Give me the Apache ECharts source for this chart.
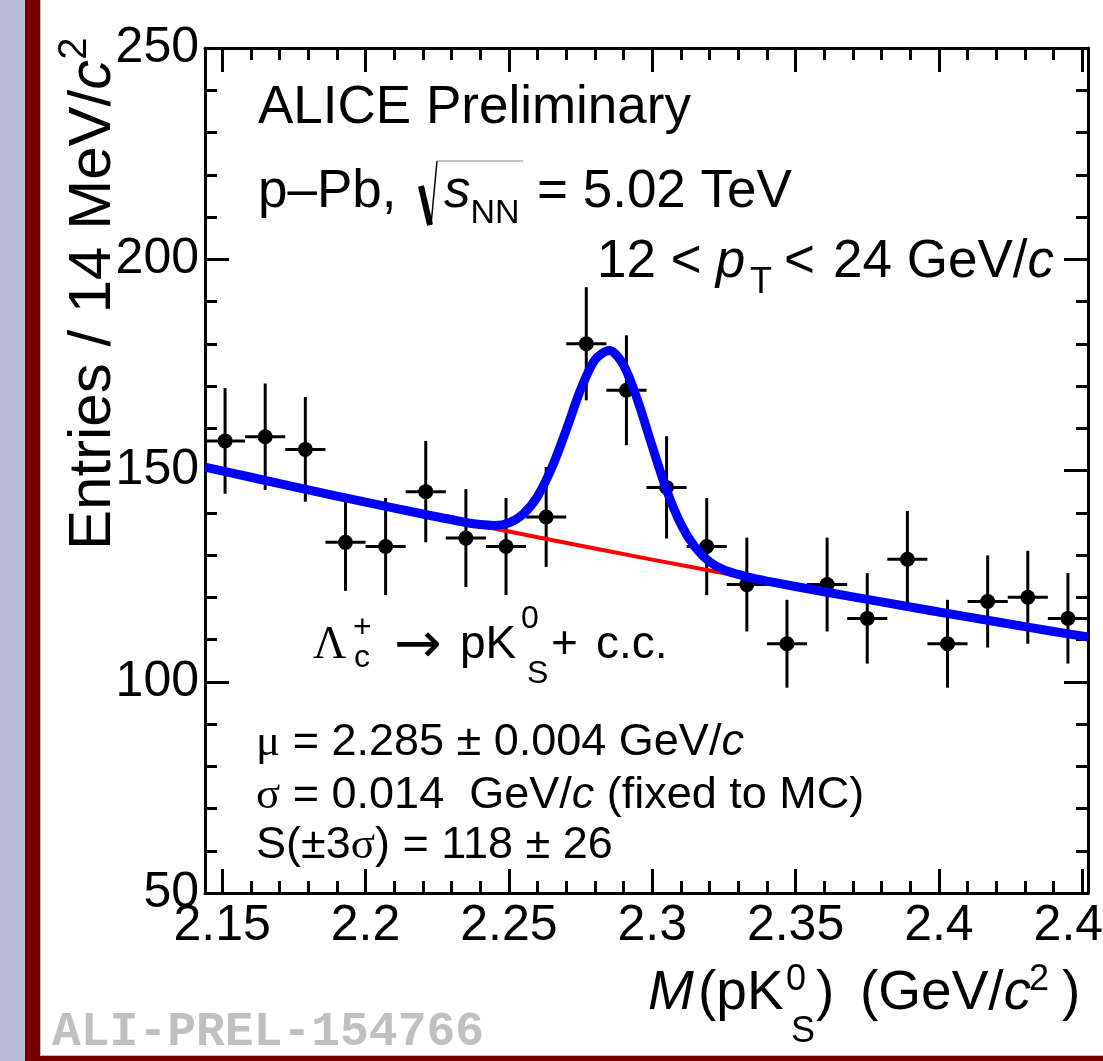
<!DOCTYPE html>
<html>
<head>
<meta charset="utf-8">
<title>Lambda_c invariant mass</title>
<script src="https://cdn.jsdelivr.net/npm/echarts@6/dist/echarts.min.js"></script>
<style>
  html, body { margin: 0; padding: 0; background: #fff; }
  #chart { width: 1103px; height: 1061px; }
</style>
</head>
<body>
<div id="chart"></div>
<script>
// histogram (bin centres, 14 MeV bins)
const massBins = [2.151, 2.165, 2.179, 2.193, 2.207, 2.221, 2.235, 2.249, 2.263, 2.277, 2.291,
                  2.305, 2.319, 2.333, 2.347, 2.361, 2.375, 2.389, 2.403, 2.417, 2.431, 2.445];
const entries = [157, 158, 155, 133, 132, 145, 134, 132, 139, 180, 169,
                 146, 132, 123, 109, 123, 115, 129, 109, 119, 120, 115];
const entryErrors = [12.5, 12.6, 12.4, 11.5, 11.5, 12.0, 11.6, 11.5, 11.8, 13.4, 13.0,
                     12.1, 11.5, 11.1, 10.4, 11.1, 10.7, 11.4, 10.4, 10.9, 11.0, 10.7];
const binHalfWidth = 0.007;

// total fit (blue)
const fitMass = [2.144, 2.16, 2.18, 2.2, 2.22, 2.235, 2.24, 2.245, 2.25, 2.255, 2.26, 2.265, 2.27,
                 2.275, 2.28, 2.285, 2.29, 2.295, 2.3, 2.305, 2.31, 2.315, 2.32, 2.325, 2.33,
                 2.335, 2.34, 2.36, 2.38, 2.4, 2.42, 2.44, 2.452];
const fitTotal = [150.8, 148.4, 145.4, 142.5, 139.7, 137.7, 137.2, 137.0, 137.6, 139.7, 143.9, 150.7, 159.6,
                  169.1, 176.2, 178.4, 174.9, 166.4, 155.7, 145.4, 137.3, 131.8, 128.4, 126.5, 125.4,
                  124.5, 123.8, 121.3, 118.9, 116.5, 114.2, 111.9, 110.6];
// background (red)
const bkgMass = [2.144, 2.18, 2.22, 2.26, 2.3, 2.34, 2.38, 2.42, 2.452];
const bkgEntries = [150.8, 145.4, 139.7, 134.2, 128.9, 123.8, 118.9, 114.2, 110.6];

// axes
const massMin = 2.144, massMax = 2.452;
const entriesMin = 50, entriesMax = 250;
const xMajorTicks = [2.15, 2.2, 2.25, 2.3, 2.35, 2.4, 2.45];
const xMinorTicks = [2.15, 2.16, 2.17, 2.18, 2.19, 2.2, 2.21, 2.22, 2.23, 2.24, 2.25, 2.26, 2.27, 2.28,
                     2.29, 2.3, 2.31, 2.32, 2.33, 2.34, 2.35, 2.36, 2.37, 2.38, 2.39, 2.4, 2.41,
                     2.42, 2.43, 2.44, 2.45];

const SANS = '"Liberation Sans", Arial, Helvetica, sans-serif';
const SERIF = '"Liberation Serif", "Times New Roman", serif';
const MONO = '"Liberation Mono", "Courier New", monospace';
const DEJAVU = '"DejaVu Sans", sans-serif';

// small TLatex-like helper: runs of text laid on one baseline
const mctx = document.createElement('canvas').getContext('2d');
function cssFont(r) {
  return (r.it ? 'italic ' : '') + (r.bold ? 'bold ' : '') + r.s + 'px ' + (r.f || SANS);
}
function textRun(x, y, runs, fill) {
  const out = [];
  let cur = x, prevStart = x;
  runs.forEach(r => {
    const font = cssFont(r);
    mctx.font = font;
    mctx.textBaseline = 'alphabetic';
    const w = mctx.measureText(r.t).width;
    mctx.textBaseline = 'middle';
    const off = mctx.measureText('H').actualBoundingBoxDescent;
    let sx;
    if (r.ax !== undefined) sx = r.ax;
    else if (r.stack) sx = prevStart + (r.gap || 0);
    else sx = cur + (r.gap || 0);
    out.push({
      type: 'text', x: sx, y: y + (r.dy || 0) - off,
      style: { text: r.t, font: font, fill: r.c || fill || '#000',
               textAlign: 'left', textVerticalAlign: 'middle', align: 'left', verticalAlign: 'middle' }
    });
    if (r.stack) cur = Math.max(cur, sx + w);
    else { prevStart = sx; cur = sx + w; }
  });
  return out;
}

function xAx(position, ticks, len, showLine, showLabel) {
  return {
    type: 'value', position: position, min: massMin, max: massMax,
    axisLine: { show: showLine, onZero: false, lineStyle: { color: '#000', width: 3 } },
    axisTick: { show: true, inside: true, length: len, customValues: ticks,
                lineStyle: { color: '#000', width: 3 } },
    axisLabel: { show: showLabel, customValues: ticks, margin: 8, color: '#000',
                 fontSize: 50, fontFamily: SANS, showMinLabel: true, showMaxLabel: true,
                 formatter: v => String(v) },
    splitLine: { show: false }
  };
}
function yAx(position, interval, len, showLine, showLabel) {
  return {
    type: 'value', position: position, min: entriesMin, max: entriesMax, interval: interval,
    axisLine: { show: showLine, lineStyle: { color: '#000', width: 3 } },
    axisTick: { show: true, inside: true, length: len, lineStyle: { color: '#000', width: 3 } },
    axisLabel: { show: showLabel, margin: 6, color: '#000', fontSize: 50, fontFamily: SANS },
    splitLine: { show: false }
  };
}

const points = massBins.map((m, i) => [m, entries[i], entryErrors[i], binHalfWidth]);

// texts
const texts = [].concat(
  textRun(258, 123, [{ t: 'ALICE Preliminary', s: 53 }]),
  textRun(258, 207, [
    { t: 'p\u2013Pb,', s: 53 },
    { t: 's', s: 53, it: true, ax: 444 },
    { t: 'NN', s: 34, dy: 16 },
    { t: '= 5.02 TeV', s: 53, ax: 537 }
  ]),
  textRun(597, 277, [
    { t: '12 <', s: 53 },
    { t: 'p', s: 53, it: true, gap: 14 },
    { t: 'T', s: 36, dy: 16, gap: 5 },
    { t: '<', s: 53, gap: 12 },
    { t: '24 GeV/', s: 53, gap: 18 },
    { t: 'c', s: 53, it: true }
  ]),
  textRun(313, 658, [
    { t: '\u039B', s: 46, f: SERIF },
    { t: '+', s: 32, dy: -21, ax: 353 },
    { t: 'c', s: 32, dy: 9, ax: 354 },
    { t: '\u2192', s: 57, f: DEJAVU, ax: 394, dy: 4 },
    { t: 'pK', s: 46, ax: 460 },
    { t: '0', s: 32, dy: -30, ax: 521 },
    { t: 'S', s: 32, dy: 25, ax: 527 },
    { t: '+', s: 46, ax: 551 },
    { t: 'c.c.', s: 46, ax: 596 }
  ]),
  textRun(256, 755, [
    { t: '\u03BC', s: 45, f: SERIF },
    { t: ' = 2.285 \u00B1 0.004 GeV/', s: 45 },
    { t: 'c', s: 45, it: true }
  ]),
  textRun(256, 808, [
    { t: '\u03C3', s: 45, f: SERIF },
    { t: ' = 0.014  GeV/', s: 45 },
    { t: 'c', s: 45, it: true },
    { t: ' (fixed to MC)', s: 45 }
  ]),
  textRun(256, 858, [
    { t: 'S(\u00B13', s: 45 },
    { t: '\u03C3', s: 45, f: SERIF },
    { t: ') = 118 \u00B1 26', s: 45 }
  ]),
  // x axis title
  textRun(648, 1009, [
    { t: 'M', s: 55, it: true },
    { t: '(pK', s: 55, ax: 698 },
    { t: '0', s: 36, dy: -19, ax: 786 },
    { t: 'S', s: 36, dy: 33, ax: 791 },
    { t: ')', s: 55, ax: 816 },
    { t: '(GeV/', s: 55, ax: 860 },
    { t: 'c', s: 55, it: true },
    { t: '2', s: 36, dy: -19, ax: 1029 },
    { t: ')', s: 55, ax: 1062 }
  ]),
  textRun(52, 1045, [{ t: 'ALI-PREL-154766', s: 48, bold: true, f: MONO }], '#c0c0c0')
);

const yTitle = {
  type: 'group', x: 110, y: 550, rotation: Math.PI / 2,
  children: textRun(0, 0, [
    { t: 'Entries / 14 MeV/', s: 60 },
    { t: 'c', s: 60, it: true },
    { t: '2', s: 40, dy: -24 }
  ])
};

const sqrtSign = [
  { type: 'line', shape: { x1: 421, y1: 186, x2: 430, y2: 225 }, style: { stroke: '#000', lineWidth: 6 } },
  { type: 'line', shape: { x1: 431, y1: 225, x2: 437, y2: 161 }, style: { stroke: '#000', lineWidth: 1.5 } },
  { type: 'line', shape: { x1: 437, y1: 161, x2: 523, y2: 161 }, style: { stroke: '#888', lineWidth: 1.2 } }
];

const frame = [
  { type: 'rect', shape: { x: 0, y: 0, width: 25, height: 1061 }, style: { fill: '#b8bcd8' } },
  { type: 'rect', shape: { x: 25, y: 0, width: 15, height: 1061 }, style: { fill: '#7a0000' } },
  { type: 'rect', shape: { x: 25, y: 1056, width: 1078, height: 5 }, style: { fill: '#7a0000' } },
  { type: 'line', shape: { x1: 40.5, y1: 0, x2: 40.5, y2: 1056 }, style: { stroke: '#bbb', lineWidth: 1 } },
  { type: 'line', shape: { x1: 40, y1: 1055.5, x2: 1103, y2: 1055.5 }, style: { stroke: '#bbb', lineWidth: 1 } }
];

const chart = echarts.init(document.getElementById('chart'), null, { renderer: 'canvas' });
chart.setOption({
  animation: false,
  backgroundColor: '#fff',
  grid: { left: 205, top: 48, right: 15, bottom: 168, containLabel: false, outerBoundsMode: 'none' },
  xAxis: [
    xAx('bottom', xMajorTicks, 24, true, true),
    xAx('top', xMajorTicks, 24, true, false),
    xAx('bottom', xMinorTicks, 12, false, false),
    xAx('top', xMinorTicks, 12, false, false)
  ],
  yAxis: [
    yAx('left', 50, 24, true, true),
    yAx('right', 50, 24, true, false),
    yAx('left', 10, 12, false, false),
    yAx('right', 10, 12, false, false)
  ],
  series: [
    {
      type: 'custom', xAxisIndex: 0, yAxisIndex: 0, z: 2,
      data: points,
      renderItem: function (params, api) {
        const x = api.value(0), y = api.value(1), e = api.value(2), w = api.value(3);
        const top = api.coord([x, y + e]), bot = api.coord([x, y - e]);
        const l = api.coord([x - w, y]), r = api.coord([x + w, y]);
        const st = { stroke: '#000', lineWidth: 3 };
        return {
          type: 'group',
          children: [
            { type: 'line', shape: { x1: top[0], y1: top[1], x2: bot[0], y2: bot[1] }, style: st },
            { type: 'line', shape: { x1: l[0], y1: l[1], x2: r[0], y2: r[1] }, style: st }
          ]
        };
      }
    },
    {
      type: 'scatter', xAxisIndex: 0, yAxisIndex: 0, z: 3,
      data: massBins.map((m, i) => [m, entries[i]]),
      symbol: 'circle', symbolSize: 15, itemStyle: { color: '#000', opacity: 1 }
    },
    {
      type: 'line', xAxisIndex: 0, yAxisIndex: 0, z: 4,
      data: bkgMass.map((m, i) => [m, bkgEntries[i]]),
      showSymbol: false, smooth: 0.3,
      lineStyle: { color: '#ff0000', width: 4 }
    },
    {
      type: 'line', xAxisIndex: 0, yAxisIndex: 0, z: 5,
      data: fitMass.map((m, i) => [m, fitTotal[i]]),
      showSymbol: false, smooth: 0.3,
      lineStyle: { color: '#0000ff', width: 9 }
    }
  ],
  graphic: { elements: [].concat(frame, texts, [yTitle], sqrtSign) }
});
</script>
</body>
</html>
